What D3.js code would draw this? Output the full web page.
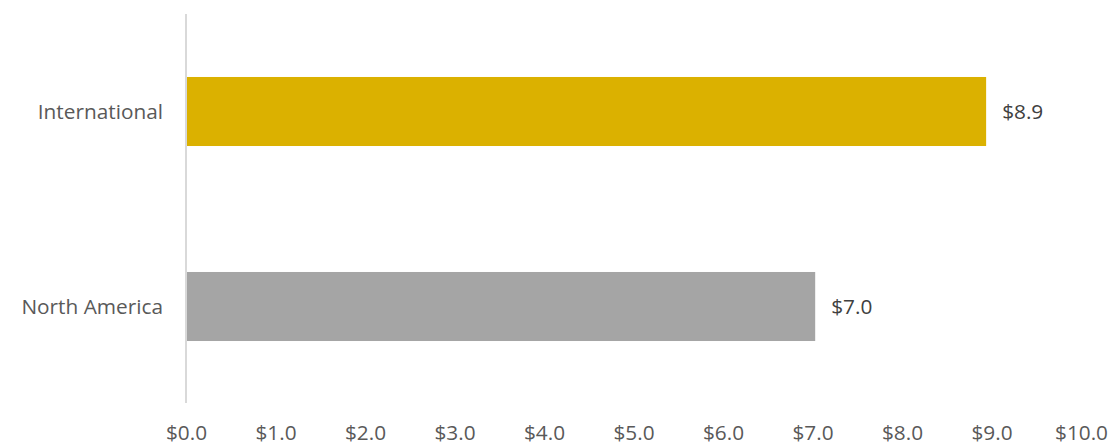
<!DOCTYPE html>
<html>
<head>
<meta charset="utf-8">
<script src="https://cdn.jsdelivr.net/npm/d3@7"></script>
<style>
  body { margin: 0; background: #fff; }
  svg { display: block; font-family: "Open Sans", sans-serif; }
</style>
</head>
<body>
<svg id="chart" width="1113" height="446"></svg>
<script>
// data
const categories = ["International", "North America"];
const values = [8.94, 7.03];
const valueLabels = ["$8.9", "$7.0"];
const barColors = ["#DBB100", "#A5A5A5"];
const tickValues = [0, 1, 2, 3, 4, 5, 6, 7, 8, 9, 10];

const svg = d3.select("#chart");

// scales
const x = d3.scaleLinear().domain([0, 10]).range([186, 1081]);
const y = d3.scaleBand()
    .domain(categories)
    .range([14, 404])
    .paddingInner(0.646)
    .paddingOuter(0.323);

// bars
svg.selectAll("rect.bar")
    .data(categories)
    .enter()
    .append("rect")
    .attr("class", "bar")
    .attr("x", x(0))
    .attr("y", d => y(d))
    .attr("width", (d, i) => x(values[i]) - x(0))
    .attr("height", y.bandwidth())
    .attr("fill", (d, i) => barColors[i]);

// vertical axis line
svg.append("line")
    .attr("x1", x(0)).attr("x2", x(0))
    .attr("y1", 14).attr("y2", 403)
    .attr("stroke", "#D9D9D9")
    .attr("stroke-width", 2);

// category labels
svg.selectAll("text.cat")
    .data(categories)
    .enter()
    .append("text")
    .attr("class", "cat")
    .attr("x", x(0) - 23)
    .attr("y", d => y(d) + y.bandwidth() / 2)
    .attr("dy", "0.35em")
    .attr("text-anchor", "end")
    .attr("font-size", 20.8)
    .attr("fill", "#595959")
    .text(d => d);

// value labels
svg.selectAll("text.val")
    .data(categories)
    .enter()
    .append("text")
    .attr("class", "val")
    .attr("x", (d, i) => x(values[i]) + 16)
    .attr("y", d => y(d) + y.bandwidth() / 2)
    .attr("dy", "0.35em")
    .attr("font-size", 20.8)
    .attr("fill", "#404040")
    .text((d, i) => valueLabels[i]);

// x axis tick labels
const xAxis = d3.axisBottom(x)
    .tickValues(tickValues)
    .tickSize(0)
    .tickPadding(0)
    .tickFormat(d => "$" + d3.format(".1f")(d));

const gx = svg.append("g")
    .attr("transform", "translate(0,425)")
    .call(xAxis);
gx.select(".domain").remove();
gx.selectAll("text")
    .attr("font-family", "Open Sans, sans-serif")
    .attr("font-size", 20.8)
    .attr("fill", "#595959");
</script>
</body>
</html>
